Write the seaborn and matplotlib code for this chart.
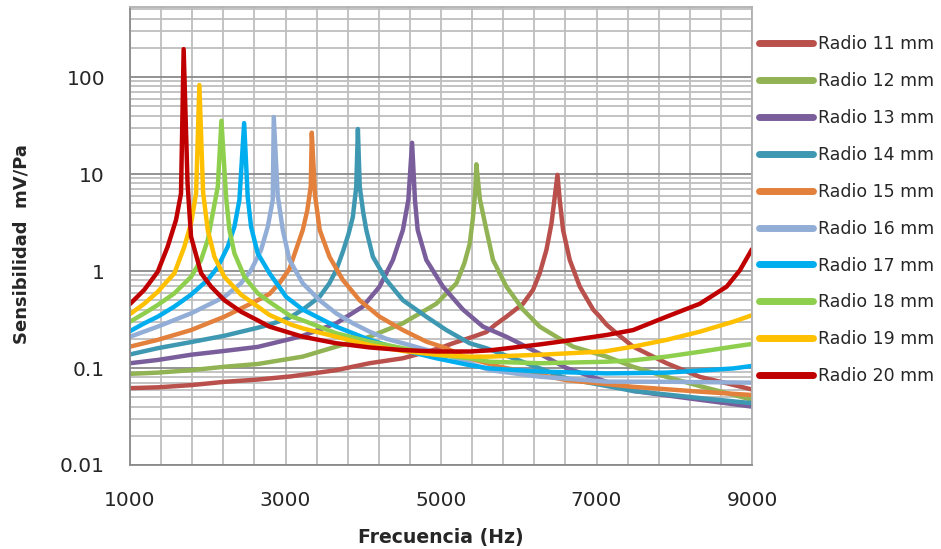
import numpy as np
import pandas as pd
import matplotlib
matplotlib.use("Agg")
import matplotlib.pyplot as plt
import seaborn as sns
from matplotlib.ticker import FixedLocator, FixedFormatter, NullFormatter

# ---------------- data ----------------
series_names = ["Radio 11 mm", "Radio 12 mm", "Radio 13 mm", "Radio 14 mm", "Radio 15 mm",
                "Radio 16 mm", "Radio 17 mm", "Radio 18 mm", "Radio 19 mm", "Radio 20 mm"]

f11 = [1000, 1356, 1785, 2214, 2643, 3073, 3652, 4081, 4510, 4983, 5154, 5412, 5584, 5700, 5841, 6055, 6184,
       6270, 6356, 6421, 6463, 6498, 6527, 6570, 6656, 6785, 6957, 7043, 7129, 7258, 7471, 7901, 8330, 8759, 9000]
s11 = [0.062, 0.0632, 0.0666, 0.072, 0.076, 0.082, 0.095, 0.112, 0.126, 0.16, 0.18, 0.21, 0.235, 0.28, 0.338, 0.46, 0.64,
       0.95, 1.65, 3.1, 5.8, 9.8, 5.4, 2.65, 1.3, 0.69, 0.40, 0.338, 0.28, 0.228, 0.166, 0.112, 0.081, 0.067, 0.06]

f12 = [1000, 1356, 1785, 2214, 2643, 3222, 3652, 4081, 4510, 4940, 5198, 5300, 5369, 5410, 5440, 5455,
       5500, 5584, 5669, 5841, 6055, 6270, 6485, 6699, 7129, 7471, 7901, 8330, 8759, 9000]
s12 = [0.087, 0.0896, 0.095, 0.103, 0.11, 0.131, 0.166, 0.21, 0.289, 0.46, 0.746, 1.2, 1.9, 3.5, 6.5, 12.6,
       5.5, 2.65, 1.3, 0.69, 0.40, 0.267, 0.21, 0.166, 0.131, 0.103, 0.081, 0.065, 0.053, 0.047]

f13 = [1000, 1356, 1785, 2214, 2643, 3073, 3222, 3652, 3995, 4210, 4382, 4510, 4580, 4628, 4665, 4700, 4811,
       5025, 5283, 5540, 5841, 6055, 6270, 6613, 7471, 8330, 9000]
s13 = [0.112, 0.121, 0.137, 0.15, 0.165, 0.2, 0.215, 0.289, 0.43, 0.69, 1.3, 2.65, 5.4, 21.0, 5.4, 2.65, 1.3,
       0.69, 0.40, 0.267, 0.21, 0.172, 0.14, 0.1, 0.058, 0.047, 0.040]

f14 = [1000, 1356, 1785, 2214, 2643, 2794, 3051, 3222, 3437, 3566, 3652, 3740, 3810, 3866, 3910, 3931, 3955,
       4000, 4039, 4124, 4296, 4510, 4811, 5069, 5369, 5584, 6000, 6613, 7471, 8330, 9000]
s14 = [0.138, 0.16, 0.185, 0.215, 0.26, 0.28, 0.33, 0.4, 0.54, 0.75, 1.02, 1.6, 2.4, 3.6, 7.4, 29.1, 7.4,
       4.0, 2.65, 1.4, 0.81, 0.50, 0.338, 0.246, 0.18, 0.16, 0.12, 0.078, 0.058, 0.049, 0.0434]

f15 = [1000, 1356, 1785, 2214, 2643, 2794, 2922, 3051, 3140, 3222, 3280, 3325, 3338, 3380, 3440, 3566, 3737,
       3952, 4210, 4510, 4811, 5069, 5300, 5755, 6613, 7471, 8330, 9000]
s15 = [0.166, 0.195, 0.246, 0.338, 0.50, 0.58, 0.75, 1.05, 1.7, 2.65, 4.2, 7.5, 26.7, 6.0, 2.65, 1.4, 0.81,
       0.50, 0.338, 0.246, 0.187, 0.16, 0.13, 0.103, 0.075, 0.064, 0.057, 0.0527]

f16 = [1000, 1356, 1785, 2214, 2429, 2557, 2686, 2772, 2836, 2849, 2900, 2965, 3051, 3222, 3437, 3652, 3866,
       4081, 4296, 4510, 4800, 5069, 5626, 6270, 7129, 8000, 9000]
s16 = [0.21, 0.267, 0.366, 0.54, 0.75, 1.02, 1.65, 2.86, 5.4, 38.7, 6.0, 2.65, 1.3, 0.746, 0.50, 0.366, 0.289,
       0.237, 0.20, 0.18, 0.155, 0.137, 0.095, 0.0814, 0.0724, 0.072, 0.0706]

f17 = [1000, 1184, 1356, 1571, 1785, 2000, 2129, 2257, 2343, 2407, 2468, 2514, 2557, 2643, 2794, 3009, 3222,
       3652, 4081, 4510, 4940, 5369, 5626, 6270, 7129, 7900, 8330, 8759, 9000]
s17 = [0.24, 0.289, 0.338, 0.43, 0.57, 0.81, 1.1, 1.78, 2.86, 5.4, 33.5, 5.8, 2.86, 1.52, 0.95, 0.54, 0.40,
       0.267, 0.195, 0.153, 0.126, 0.107, 0.099, 0.092, 0.088, 0.0896, 0.094, 0.099, 0.105]

f18 = [1000, 1184, 1356, 1571, 1785, 1914, 2000, 2064, 2129, 2176, 2236, 2279, 2343, 2472, 2643, 2794, 3073,
       3222, 3652, 4081, 4510, 4940, 5369, 5626, 6270, 7129, 7471, 7901, 8330, 8759, 9000]
s18 = [0.30, 0.366, 0.446, 0.589, 0.87, 1.3, 2.09, 3.9, 7.4, 35.4, 5.8, 2.65, 1.52, 0.87, 0.589, 0.48, 0.34,
       0.31, 0.228, 0.187, 0.16, 0.137, 0.126, 0.116, 0.112, 0.116, 0.12, 0.131, 0.147, 0.166, 0.177]

f19 = [1000, 1184, 1356, 1571, 1699, 1785, 1850, 1892, 1940, 2000, 2086, 2214, 2429, 2643, 2794, 3073, 3222,
       3652, 4081, 4510, 4940, 5369, 5626, 6270, 7100, 7471, 7901, 8330, 8759, 9000]
s19 = [0.36, 0.46, 0.61, 0.95, 1.78, 3.1, 6.3, 82.7, 6.5, 2.65, 1.4, 0.87, 0.57, 0.43, 0.352, 0.28, 0.256,
       0.21, 0.172, 0.15, 0.137, 0.131, 0.131, 0.137, 0.148, 0.166, 0.195, 0.237, 0.30, 0.35]

f20 = [1000, 1184, 1356, 1484, 1592, 1656, 1690, 1740, 1785, 1914, 2043, 2214, 2429, 2643, 2794, 3222, 3652,
       4081, 4510, 4940, 5369, 5626, 6270, 6699, 7129, 7471, 7901, 8330, 8674, 8845, 9000]
s20 = [0.457, 0.64, 0.98, 1.78, 3.36, 6.3, 194.0, 8.0, 2.26, 0.95, 0.69, 0.50, 0.38, 0.31, 0.267, 0.21, 0.18,
       0.163, 0.153, 0.148, 0.148, 0.152, 0.175, 0.195, 0.219, 0.246, 0.338, 0.46, 0.69, 1.02, 1.68]

colors = ["#B9504C", "#92B353", "#7A5E9C", "#3F98B2", "#E3813C",
          "#92AED6", "#00AEEF", "#8FCF4E", "#FFC000", "#C00000"]

x_ticks = [1000, 3000, 5000, 7000, 9000]
y_ticks = [0.01, 0.1, 1, 10, 100]
y_tick_labels = ["0.01", "0.1", "1", "10", "100"]

# ---------------- build long table ----------------
freqs = [f11, f12, f13, f14, f15, f16, f17, f18, f19, f20]
sens = [s11, s12, s13, s14, s15, s16, s17, s18, s19, s20]
frames = []
for name, f, s in zip(series_names, freqs, sens):
    frames.append(pd.DataFrame({"Frecuencia": f, "Sensibilidad": s, "Serie": name}))
df = pd.concat(frames, ignore_index=True)

# ---------------- plot ----------------
sns.set_theme(style="white")
plt.rcParams["font.family"] = ["DejaVu Sans"]

W, H = 941, 549
fig = plt.figure(figsize=(W / 100, H / 100), dpi=100)
ax = fig.add_axes([130 / W, (H - 465) / H, 622 / W, 458 / H])

sns.lineplot(data=df, x="Frecuencia", y="Sensibilidad", hue="Serie",
             hue_order=series_names, palette=dict(zip(series_names, colors)),
             linewidth=3.2, estimator=None, sort=False, ax=ax,
             solid_capstyle="round", solid_joinstyle="round")

ax.set_yscale("log")
ax.set_xlim(1000, 9000)
ax.set_ylim(0.01, 527)

# x ticks / grid
ax.xaxis.set_major_locator(FixedLocator(x_ticks))
ax.xaxis.set_minor_locator(FixedLocator(list(range(1000, 9001, 400))))
ax.xaxis.set_minor_formatter(NullFormatter())
# y ticks / grid
ax.yaxis.set_major_locator(FixedLocator(y_ticks))
ax.yaxis.set_major_formatter(FixedFormatter(y_tick_labels))
minor_y = [m * 10.0 ** e for e in range(-2, 3) for m in range(2, 10)]
ax.yaxis.set_minor_locator(FixedLocator(minor_y))
ax.yaxis.set_minor_formatter(NullFormatter())

ax.grid(which="minor", axis="both", color="#BEBEBE", linewidth=1.3)
ax.grid(which="major", axis="x", color="#BEBEBE", linewidth=1.3)
ax.grid(which="major", axis="y", color="#8A8A8A", linewidth=1.3)
ax.set_axisbelow(True)

for sp in ax.spines.values():
    sp.set_color("#B0B0B0")
    sp.set_linewidth(1.3)
ax.spines["left"].set_color("#8A8A8A")
ax.spines["bottom"].set_color("#8A8A8A")

ax.tick_params(axis="x", which="both", length=0, pad=19, labelsize=14.5, labelcolor="#262626")
ax.tick_params(axis="y", which="major", length=8, width=1.3, color="#8A8A8A", direction="out",
               pad=10, labelsize=14.5, labelcolor="#262626")
ax.tick_params(axis="y", which="minor", length=0)

ax.set_xlabel("")
ax.set_ylabel("")
fig.text(441 / W, 1 - 538 / H, "Frecuencia (Hz)", ha="center", va="center",
         fontsize=13.6, fontweight="bold", color="#262626")
fig.text(22 / W, 1 - 244 / H, "Sensibilidad  mV/Pa", ha="center", va="center",
         rotation=90, fontsize=13.0, fontweight="bold", color="#262626")

leg = ax.legend(loc="upper left", bbox_to_anchor=(759 / W, 1 - 35 / H),
                bbox_transform=fig.transFigure, frameon=False, fontsize=12.5,
                handlelength=3.1, handletextpad=0.3, labelspacing=1.09,
                borderaxespad=0, borderpad=0)
for line in leg.get_lines():
    line.set_linewidth(5)
    line.set_solid_capstyle("round")
for t in leg.get_texts():
    t.set_color("#262626")

fig.savefig("out.png", dpi=100)
